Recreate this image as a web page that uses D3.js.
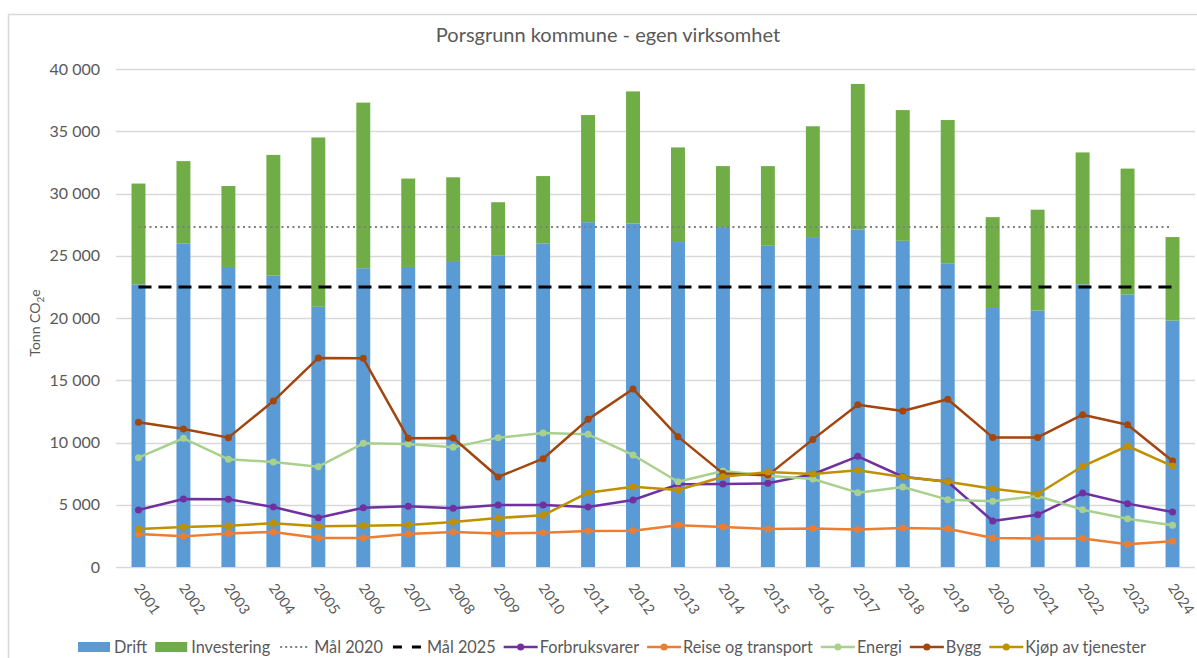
<!DOCTYPE html>
<html>
<head>
<meta charset="utf-8">
<script src="https://cdn.jsdelivr.net/npm/d3@7"></script>
<style>
  body { margin: 0; background: #fff; }
  svg text { font-family: Lato, "Open Sans", sans-serif; fill: #595959; }
</style>
</head>
<body>
<div id="chart"></div>
<script>
// data (tonn CO2e)
const years = ['2001','2002','2003','2004','2005','2006','2007','2008','2009','2010','2011','2012',
               '2013','2014','2015','2016','2017','2018','2019','2020','2021','2022','2023','2024'];
const drift       = [22700,26000,24100,23400,20900,24000,24100,24500,25000,26000,27700,27600,
                     26100,27300,25800,26500,27100,26200,24400,20800,20600,22700,21900,19800];
const investering = [8100,6600,6500,9700,13600,13300,7100,6800,4300,5400,8600,10600,
                     7600,4900,6400,8900,11700,10500,11500,7300,8100,10600,10100,6700];
const maal2020 = 27300;
const maal2025 = 22500;
const forbruksvarer = [4580,5460,5440,4820,3960,4760,4870,4710,4980,4980,4820,5380,
                       6640,6670,6720,7450,8890,7250,6850,3690,4200,5940,5090,4420];
const reise  = [2650,2460,2700,2810,2330,2330,2650,2810,2700,2760,2890,2920,
                3350,3210,3050,3100,3020,3130,3080,2330,2280,2280,1820,2060];
const energi = [8780,10340,8650,8430,8060,9930,9880,9610,10390,10760,10660,9000,
                6850,7710,7330,7070,5970,6430,5410,5280,5700,4600,3880,3350];
const bygg   = [11620,11080,10390,13330,16790,16760,10340,10360,7230,8700,11860,14300,
                10470,7520,7360,10250,13040,12530,13470,10410,10410,12230,11430,8510];
const kjop   = [3050,3210,3320,3510,3270,3320,3370,3610,3940,4150,5970,6450,
                6180,7250,7630,7470,7770,7230,6850,6290,5860,8090,9720,8110];
const yTicks = [0,5000,10000,15000,20000,25000,30000,35000,40000];

const W = 1197, H = 658;
const plot = { left: 116, right: 1195, top: 69, bottom: 567 };

const svg = d3.select('#chart').append('svg').attr('width', W).attr('height', H);

// chart frame (runs off the page on the right and bottom, like the screenshot)
svg.append('rect').attr('x', 8.5).attr('y', 14.5).attr('width', 1300).attr('height', 800)
  .attr('fill', '#fff').attr('stroke', '#d9d9d9').attr('stroke-width', 1.5);

const x = d3.scaleBand().domain(years).range([plot.left, plot.right]).paddingInner(0.69).paddingOuter(0.345);
const y = d3.scaleLinear().domain([0, 40000]).range([plot.bottom, plot.top]);
const cx = d => x(d) + x.bandwidth() / 2;

const nb = d3.formatLocale({ decimal: ',', thousands: '\u00a0', grouping: [3], currency: ['', ' kr'] });
const fmt = nb.format(',');

// gridlines + y labels
svg.append('g').selectAll('line').data(yTicks).join('line')
  .attr('x1', plot.left).attr('x2', plot.right)
  .attr('y1', d => Math.round(y(d)) + 0.5).attr('y2', d => Math.round(y(d)) + 0.5)
  .attr('stroke', '#d9d9d9').attr('stroke-width', 1.5);

svg.append('g').selectAll('text').data(yTicks).join('text')
  .attr('x', 100).attr('y', d => y(d)).attr('dy', '0.35em')
  .attr('text-anchor', 'end').style('font-size', '16px')
  .text(d => fmt(d));

// y title
const yt = svg.append('text').attr('transform', 'translate(40,323) rotate(-90)')
  .attr('text-anchor', 'middle').style('font-size', '14px');
yt.append('tspan').text('Tonn CO');
yt.append('tspan').attr('dy', 4).style('font-size', '10px').text('2');
yt.append('tspan').attr('dy', -4).text('e');

// title
svg.append('text').attr('x', 608).attr('y', 42).attr('text-anchor', 'middle')
  .style('font-size', '20px').text('Porsgrunn kommune - egen virksomhet');

// stacked bars
const rows = years.map((yr, i) => ({ year: yr, Drift: drift[i], Investering: investering[i] }));
const stack = d3.stack().keys(['Drift', 'Investering'])(rows);
const barColor = { Drift: '#5b9bd5', Investering: '#70ad47' };

svg.append('g').selectAll('g').data(stack).join('g')
  .attr('fill', s => barColor[s.key])
  .selectAll('rect').data(s => s).join('rect')
  .attr('x', d => x(d.data.year)).attr('width', x.bandwidth())
  .attr('y', d => y(d[1])).attr('height', d => y(d[0]) - y(d[1]));

// target lines
const first = cx(years[0]), last = cx(years[years.length - 1]);
svg.append('line').attr('x1', first).attr('x2', last).attr('y1', y(maal2020)).attr('y2', y(maal2020))
  .attr('stroke', '#7f7f7f').attr('stroke-width', 2).attr('stroke-dasharray', '2,3.5');
svg.append('line').attr('x1', first).attr('x2', last).attr('y1', y(maal2025)).attr('y2', y(maal2025))
  .attr('stroke', '#000').attr('stroke-width', 3).attr('stroke-dasharray', '13,7');

// line series
const series = [
  { name: 'Forbruksvarer', values: forbruksvarer, color: '#7030a0' },
  { name: 'Reise og transport', values: reise, color: '#ed7d31' },
  { name: 'Energi', values: energi, color: '#a9d18e' },
  { name: 'Bygg', values: bygg, color: '#a3450e' },
  { name: 'Kjøp av tjenester', values: kjop, color: '#bf9000' }
];
const line = d3.line().x((d, i) => cx(years[i])).y(d => y(d));

series.forEach(s => {
  const g = svg.append('g');
  g.append('path').attr('d', line(s.values)).attr('fill', 'none')
    .attr('stroke', s.color).attr('stroke-width', 2.5).attr('stroke-linejoin', 'round');
  g.selectAll('circle').data(s.values).join('circle')
    .attr('cx', (d, i) => cx(years[i])).attr('cy', d => y(d)).attr('r', 3.5)
    .attr('fill', s.color);
});

// x labels, rotated
svg.append('g').selectAll('text').data(years).join('text')
  .attr('transform', d => `translate(${cx(d) - 5},${plot.bottom + 21}) rotate(55)`)
  .style('font-size', '14.5px').text(d => d);

// legend
const legendItems = [
  { name: 'Drift', type: 'rect', color: '#5b9bd5' },
  { name: 'Investering', type: 'rect', color: '#70ad47' },
  { name: 'Mål 2020', type: 'dot', color: '#7f7f7f' },
  { name: 'Mål 2025', type: 'dash', color: '#000' }
].concat(series.map(s => ({ name: s.name, type: 'line', color: s.color })));

const lg = svg.append('g');
let lx = 0;
legendItems.forEach(it => {
  const g = lg.append('g').attr('transform', `translate(${lx},0)`);
  if (it.type === 'rect') {
    g.append('rect').attr('x', 0).attr('y', -5).attr('width', 32).attr('height', 10).attr('fill', it.color);
  } else if (it.type === 'dot') {
    g.append('line').attr('x1', 2).attr('x2', 30).attr('stroke', it.color).attr('stroke-width', 2).attr('stroke-dasharray', '2,3');
  } else if (it.type === 'dash') {
    g.append('line').attr('x1', 2).attr('x2', 32).attr('stroke', it.color).attr('stroke-width', 3).attr('stroke-dasharray', '9,10');
  } else {
    g.append('line').attr('x1', 0).attr('x2', 34).attr('stroke', it.color).attr('stroke-width', 2.5);
    g.append('circle').attr('cx', 17).attr('r', 3.5).attr('fill', it.color);
  }
  const t = g.append('text').attr('x', 36).attr('dy', '0.35em').style('font-size', '16.3px').text(it.name);
  lx += 36 + t.node().getComputedTextLength() + 8;
});
lx -= 8;
lg.attr('transform', `translate(${612 - lx / 2},647)`);
</script>
</body>
</html>
